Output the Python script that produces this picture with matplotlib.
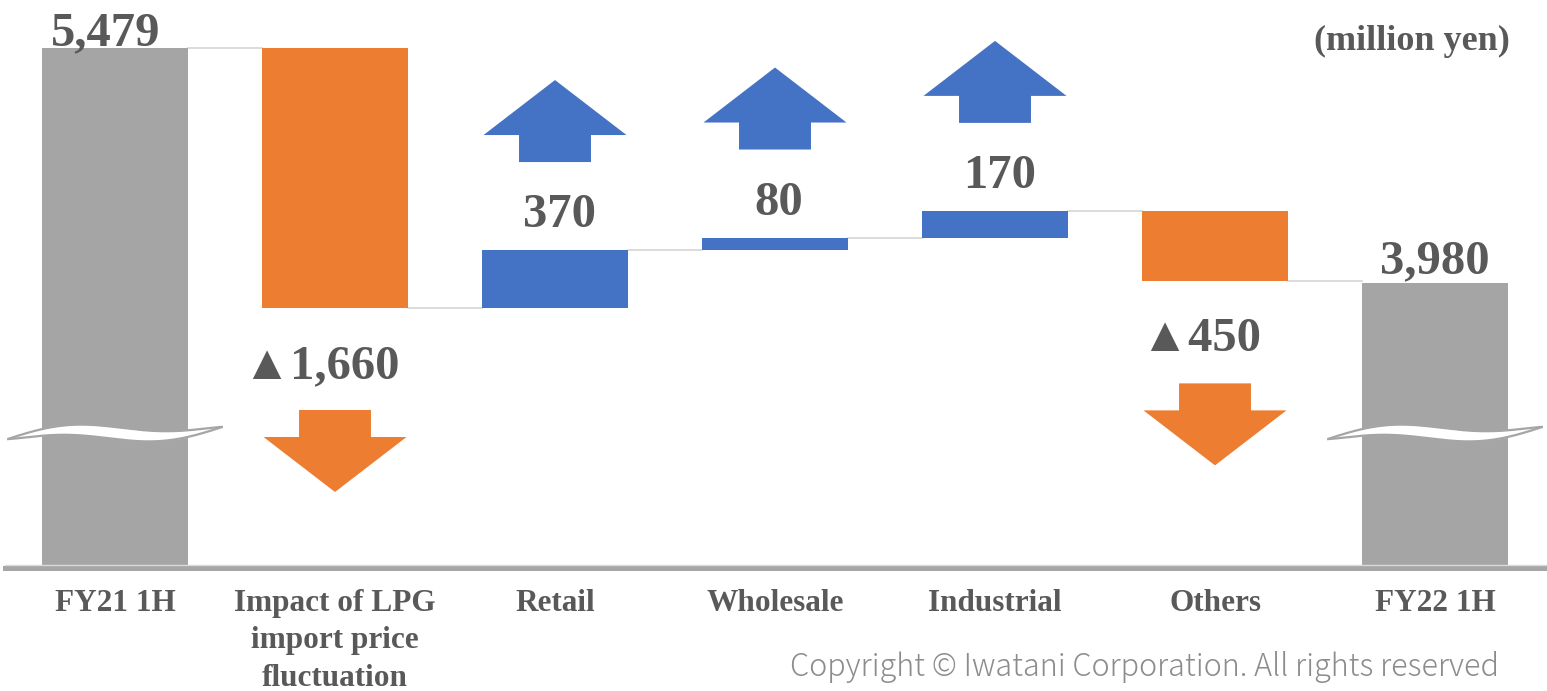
import numpy as np
import matplotlib
matplotlib.use("Agg")
import matplotlib.pyplot as plt
from matplotlib.patches import Polygon

# Operating profit bridge, FY21 1H -> FY22 1H (million yen)
categories = ["FY21 1H", "Impact of LPG\nimport price\nfluctuation", "Retail",
              "Wholesale", "Industrial", "Others", "FY22 1H"]
start_value = 5479
changes = [-1660, 370, 80, 170, -450]
end_value = 3980

GRAY = "#A5A5A5"
ORANGE = "#ED7D31"
BLUE = "#4472C4"
TEXT = "#595959"
SERIF = ["Liberation Serif", "DejaVu Serif"]

fig = plt.figure(figsize=(15.47, 6.91), dpi=100)
ax = fig.add_axes([0, (691 - 566) / 691, 1, 566 / 691])

# broken value axis: only the top of the totals is shown
units_per_px = 1660 / 260
ytop = start_value + 48 * units_per_px
ybot = ytop - 566 * units_per_px
ax.set_ylim(ybot, ytop)
ax.set_xlim(-115 / 220, (1547 - 115) / 220)
ax.axis("off")

width = 0.664
x = np.arange(len(categories))

# running totals for the floating bars
levels = [start_value]
for c in changes:
    levels.append(levels[-1] + c)

# totals
ax.bar(x[0], start_value - ybot, bottom=ybot, width=width, color=GRAY, zorder=2)
ax.bar(x[-1], end_value - ybot, bottom=ybot, width=width, color=GRAY, zorder=2)

# changes
for i, c in enumerate(changes):
    lo = min(levels[i], levels[i + 1])
    ax.bar(x[i + 1], abs(c), bottom=lo, width=width,
           color=BLUE if c > 0 else ORANGE, zorder=2)

# connectors between neighbouring bars
for i, level in enumerate(levels):
    ax.plot([x[i] + width / 2, x[i + 1] - width / 2], [level, level],
            color="#D9D9D9", lw=1.3, zorder=1)


def arrow(xc, y_base, up, color):
    """Block arrow; y_base is the end nearest to the bar."""
    s = 1 if up else -1
    shaft_w, head_w = 0.327 / 2, 0.65 / 2
    shaft_h, head_h = 27 * units_per_px, 55 * units_per_px
    y1 = y_base + s * shaft_h
    y2 = y1 + s * head_h
    pts = [(xc - shaft_w, y_base), (xc + shaft_w, y_base), (xc + shaft_w, y1),
           (xc + head_w, y1), (xc, y2), (xc - head_w, y1), (xc - shaft_w, y1)]
    ax.add_patch(Polygon(pts, closed=True, color=color, lw=0, zorder=3))


# value labels and arrows for the changes
for i, c in enumerate(changes):
    xc = x[i + 1]
    if c > 0:
        top = levels[i + 1]
        ax.annotate(f"{c:,}", (xc, top), xytext=(3, 23 / 1.389), textcoords="offset points",
                    ha="center", va="baseline", fontsize=35, fontweight="bold",
                    family=SERIF, color=TEXT)
        arrow(xc, top + 88 * units_per_px, True, BLUE)
    else:
        bottom = levels[i + 1]
        ax.annotate(f"▲{abs(c):,}", (xc, bottom), xytext=(-10, -70 / 1.389),
                    textcoords="offset points", ha="center", va="baseline",
                    fontsize=35, fontweight="bold", family=SERIF, color=TEXT)
        arrow(xc, bottom - 102 * units_per_px, False, ORANGE)

# total labels
ax.annotate(f"{start_value:,}", (x[0], start_value), xytext=(-7, 3 / 1.389),
            textcoords="offset points", ha="center", va="baseline", fontsize=35,
            fontweight="bold", family=SERIF, color=TEXT)
ax.annotate(f"{end_value:,}", (x[-1], end_value), xytext=(0, 10 / 1.389),
            textcoords="offset points", ha="center", va="baseline", fontsize=35,
            fontweight="bold", family=SERIF, color=TEXT)

# wavy break marks across the two total bars
t = np.linspace(0, 1, 200)
y_break = start_value - (433 - 48) * units_per_px
for xc in (x[0], x[-1]):
    xs = xc - 0.485 + 0.97 * t
    centre = 6 * np.cos(np.pi * t) - 7 * np.sin(2 * np.pi * t)
    half = 6 * np.sin(np.pi * t) ** 0.8
    upper = y_break - (centre - half) * units_per_px
    lower = y_break - (centre + half) * units_per_px
    ax.fill_between(xs, lower, upper, color="white", lw=0, zorder=4)
    ax.plot(xs, upper, color=GRAY, lw=1.6, zorder=5)
    ax.plot(xs, lower, color=GRAY, lw=1.6, zorder=5)

# base line
fig.add_artist(plt.Line2D([5 / 1547, 1], [(691 - 567.5) / 691] * 2, color="#A6A6A6",
                          lw=3.6, zorder=6))
fig.add_artist(plt.Line2D([5 / 1547, 1], [(691 - 564.5) / 691] * 2, color="#D9D9D9",
                          lw=1.0, zorder=6))

# category labels
for xi, label in zip(x, categories):
    ax.text(xi, ybot - 23 * units_per_px, label, ha="center", va="top", fontsize=22.5,
            fontweight="bold", family=SERIF, color=TEXT, linespacing=1.38, clip_on=False)

fig.text(1510 / 1547, 1 - 50 / 691, "(million yen)", ha="right", va="baseline",
         fontsize=26, fontweight="bold", family=SERIF, color=TEXT)
fig.text(790 / 1547, 1 - 676 / 691, "Copyright © Iwatani Corporation. All rights reserved",
         ha="left", va="baseline", fontsize=22, fontweight="light",
         family=["Noto Sans CJK JP", "DejaVu Sans"], color="#8C8C8C")

fig.savefig("out.png", dpi=100)
